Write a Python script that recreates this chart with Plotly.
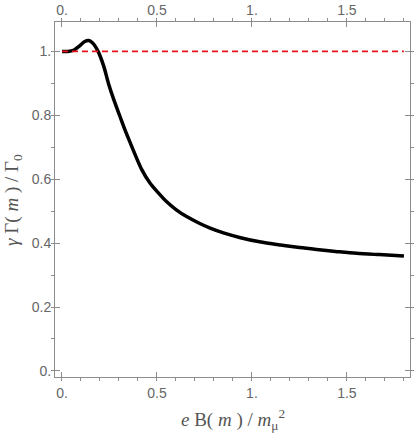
import plotly.graph_objects as go

# curve
field = [0, 0.03, 0.06, 0.09, 0.12, 0.14, 0.16, 0.19, 0.22, 0.245, 0.275, 0.305,
         0.33, 0.36, 0.385, 0.42, 0.463, 0.5, 0.55, 0.6, 0.656, 0.72, 0.78, 0.85,
         0.94, 1.04, 1.15, 1.25, 1.34, 1.44, 1.55, 1.67, 1.8]
ratio = [1.0, 1.0, 1.003, 1.016, 1.031, 1.034, 1.027, 1.0, 0.953, 0.899, 0.845, 0.797,
         0.757, 0.713, 0.677, 0.630, 0.588, 0.562, 0.530, 0.505, 0.483, 0.463, 0.447, 0.432,
         0.417, 0.404, 0.394, 0.386, 0.380, 0.374, 0.368, 0.364, 0.360]

ref_x = [0, 1.8]
ref_y = [1.0, 1.0]

x_ticks = [0, 0.5, 1.0, 1.5]
x_labels = ['0.', '0.5', '1.', '1.5']
y_ticks = [0, 0.2, 0.4, 0.6, 0.8, 1.0]
y_labels = ['0.', '0.2', '0.4', '0.6', '0.8', '1.']

frame = '#8c8c8c'
tickfont = dict(family='Liberation Sans, sans-serif', size=14, color='#666666')
titlefont = dict(family='Liberation Serif, serif', size=19, color='#555555')

fig = go.Figure()
fig.add_trace(go.Scatter(x=field, y=ratio, mode='lines',
                         line=dict(color='black', width=3.5, shape='spline', smoothing=0.8),
                         showlegend=False))
fig.add_trace(go.Scatter(x=ref_x, y=ref_y, mode='lines', line=dict(color='#e8141a', width=1.8, dash='6px,4px'),
                         showlegend=False))
# invisible trace to carry the top axis
fig.add_trace(go.Scatter(x=ref_x, y=ref_y, xaxis='x2', mode='lines', line=dict(width=0),
                         hoverinfo='skip', showlegend=False))

xrange = [-0.0368, 1.832]
minor = dict(ticklen=3, dtick=0.1, tickcolor=frame, showgrid=False)

fig.update_layout(
    template='none',
    width=415, height=438,
    paper_bgcolor='white', plot_bgcolor='white',
    margin=dict(l=55, r=5, t=22, b=61),
    xaxis=dict(range=xrange, tickvals=x_ticks, ticktext=x_labels, ticks='inside', ticklen=5,
               tickcolor=frame, showline=True, linecolor=frame, linewidth=1, mirror=True,
               showgrid=False, zeroline=False, tickfont=tickfont, minor=minor, automargin=False,
               ticklabelstandoff=3),
    xaxis2=dict(range=xrange, overlaying='x', side='top', tickvals=x_ticks, ticktext=x_labels,
                ticks='inside', ticklen=5, tickcolor=frame, showline=False, showgrid=False,
                zeroline=False, tickfont=tickfont, minor=minor, automargin=False,
                ticklabelstandoff=3),
    yaxis=dict(range=[-0.019, 1.092], tickvals=y_ticks, ticktext=y_labels, ticks='inside', ticklen=5,
               tickcolor=frame, showline=True, linecolor=frame, linewidth=1, mirror='ticks',
               showgrid=False, zeroline=False, tickfont=tickfont, automargin=False,
               minor=dict(ticklen=3, dtick=0.1, tickcolor=frame, showgrid=False)),
    annotations=[
        dict(text='<i>e</i> B( <i>m</i> ) / <i>m</i><sub>μ</sub><sup>2</sup>', xref='paper', yref='paper',
             x=0.5, y=-0.12, xanchor='center', yanchor='middle', showarrow=False, font=titlefont),
        dict(text='<i>γ</i> Γ( <i>m</i> ) / Γ<sub>0</sub>', xref='paper', yref='paper',
             x=-0.12, y=0.5, xanchor='center', yanchor='middle', textangle=-90, showarrow=False,
             font=titlefont),
    ],
)

# drop the page's default 8px body margin so the figure sits at the top-left corner
fig.write_html("out.html", config={'displayModeBar': False},
               post_script="document.body.style.margin = '0';")
